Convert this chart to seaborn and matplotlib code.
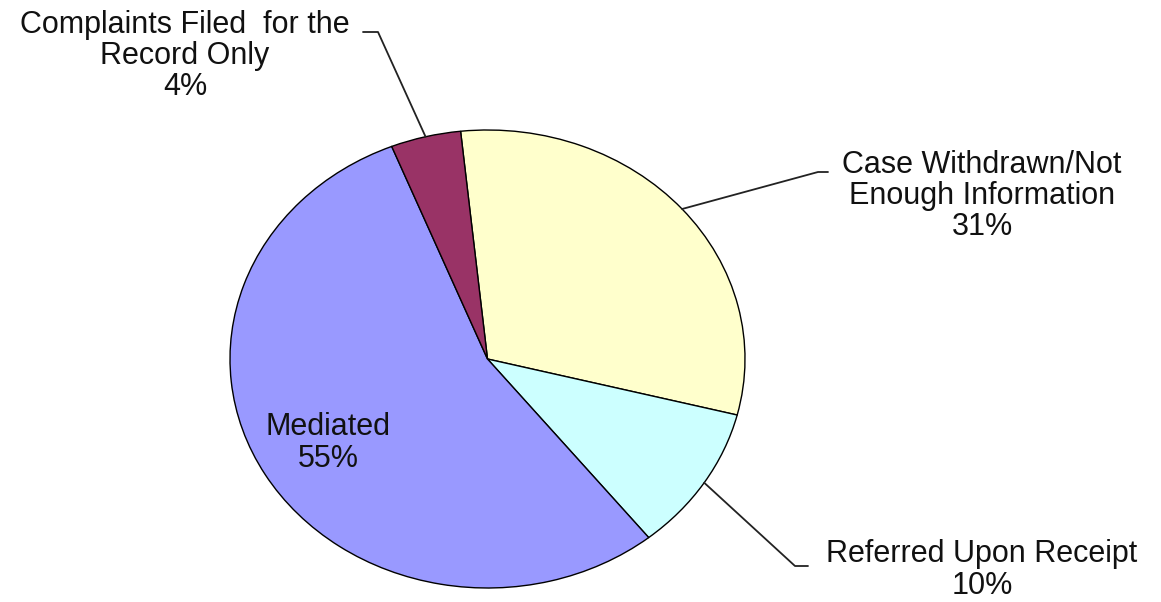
import numpy as np
import matplotlib
matplotlib.use("Agg")
import matplotlib.pyplot as plt
import seaborn as sns

categories = ["Case Withdrawn/Not\nEnough Information", "Referred Upon Receipt",
              "Mediated", "Complaints Filed  for the\nRecord Only"]
shares = [30.6, 10.3, 54.7, 4.4]
colors = ["#FFFFCC", "#CCFFFF", "#9999FF", "#993366"]

sns.set_theme(style="white")
plt.rcParams['font.family'] = ['Liberation Sans', 'DejaVu Sans']

W, H = 1161, 602
fig = plt.figure(figsize=(W / 100, H / 100), dpi=100)
# pie ellipse box in pixels: x 230..745, y 130..588
ax = fig.add_axes([230 / W, (H - 588) / H, 515 / W, 458 / H])
wedges, _ = ax.pie(shares, colors=colors, startangle=96, counterclock=False,
                   wedgeprops=dict(edgecolor="black", linewidth=1.0))
ax.set_aspect("auto")
ax.set_xlim(-1, 1)
ax.set_ylim(-1, 1)
ax.axis("off")


def px(x, y):
    # pixel -> data coordinates of the pie axes
    return (x - 487.5) / 257.5, (359 - y) / 229.0


pct = [f"{round(v):.0f}%" for v in shares]
fs = 22

# (text center, elbow, line end) in pixels for outside labels
outside = {
    0: ((982, 196), (818, 172), (828, 172)),
    1: ((982, 570), (795, 566), (808, 566)),
    3: ((185, 56), (378, 32), (363, 32)),
}
for i, (tc, elbow, end) in outside.items():
    w = wedges[i]
    mid = np.deg2rad((w.theta1 + w.theta2) / 2)
    ax0, ay0 = np.cos(mid), np.sin(mid)
    ex, ey = px(*elbow)
    fx, fy = px(*end)
    ax.plot([ax0, ex, fx], [ay0, ey, fy], color="#222222", lw=1.3, clip_on=False)
    tx, ty = px(*tc)
    ax.text(tx, ty, categories[i] + "\n" + pct[i], ha="center", va="center",
            fontsize=fs, color="#111111", linespacing=1.05, clip_on=False)

tx, ty = px(328, 443)
ax.text(tx, ty, categories[2] + "\n" + pct[2], ha="center", va="center",
        fontsize=fs, color="#111111", linespacing=1.05)

fig.savefig("out.png", dpi=100)
